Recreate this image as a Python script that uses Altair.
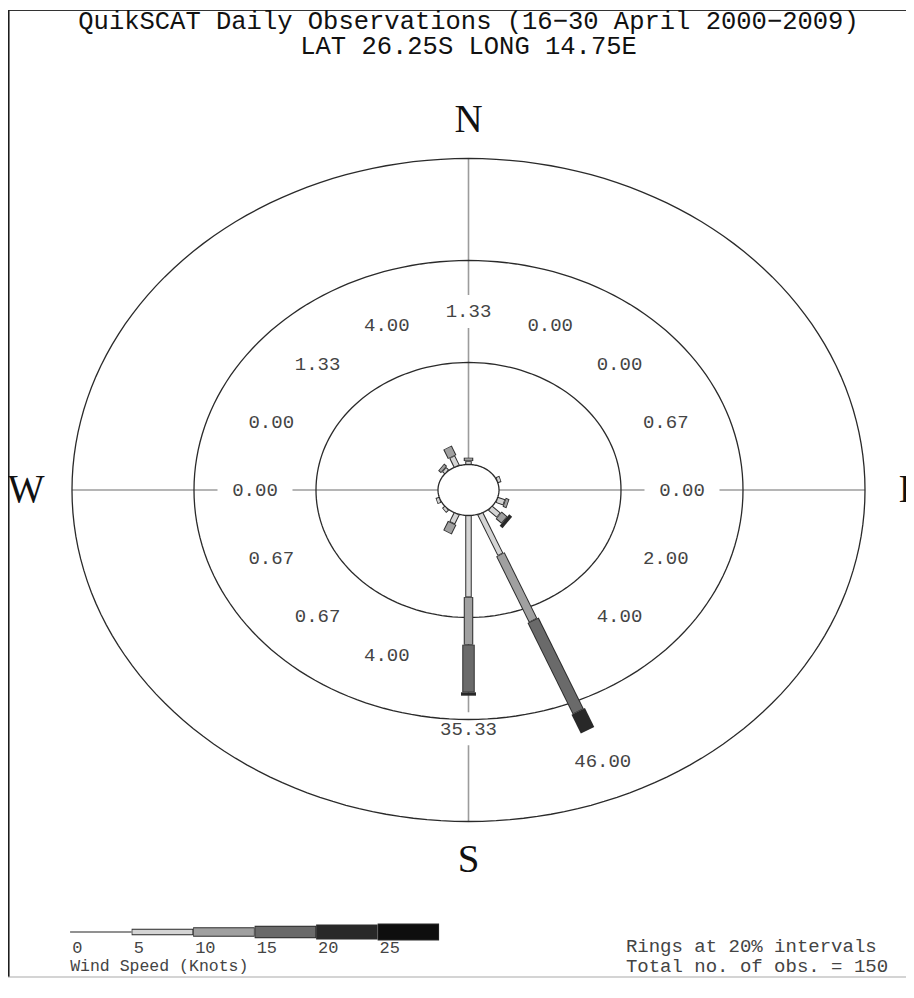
import altair as alt
import numpy as np
import pandas as pd

# ---------------- data ----------------
directions = ["N", "NNE", "NE", "ENE", "E", "ESE", "SE", "SSE",
              "S", "SSW", "SW", "WSW", "W", "WNW", "NW", "NNW"]
speed_bins = ["0-5", "5-10", "10-15", "15-20", "20-25", "25+"]
legend_ticks = ["0", "5", "10", "15", "20", "25"]

# number of observations per direction, one list per wind-speed bin
obs_0_5 = [0, 0, 0, 0, 0, 0, 0, 0, 0, 0, 0, 0, 0, 0, 0, 0]
obs_5_10 = [1, 0, 0, 1, 0, 2, 3, 13, 24, 3, 1, 1, 0, 0, 1, 3]
obs_10_15 = [1, 0, 0, 0, 0, 1, 2, 21, 14, 3, 0, 0, 0, 0, 1, 3]
obs_15_20 = [0, 0, 0, 0, 0, 0, 0, 29, 14, 0, 0, 0, 0, 0, 0, 0]
obs_20_25 = [0, 0, 0, 0, 0, 0, 1, 6, 1, 0, 0, 0, 0, 0, 0, 0]
obs_25_plus = [0, 0, 0, 0, 0, 0, 0, 0, 0, 0, 0, 0, 0, 0, 0, 0]
total_obs = 150

ring_pcts = [20, 40, 60]
compass_names = ["N", "E", "S", "W"]
compass_deg = [0, 90, 180, 270]

title_line1 = "QuikSCAT Daily Observations (16\u221230 April 2000\u22122009)"
title_line2 = "LAT 26.25S LONG 14.75E"
legend_title = "Wind Speed (Knots)"
note_line1 = "Rings at 20% intervals"
note_line2 = "Total no. of obs. = 150"

# ---------------- styling / geometry ----------------
W, H = 898, 970
R0 = 5.0            # radius of the centre circle (in % units)
LABEL_R = 35.0      # default radius of the percentage labels
LABEL_GAP = 6.5     # label distance beyond bar end
COMPASS_R = 72.5
INSET = 0.13
OUT_W = [1.6, 6.5, 9.5, 12.5, 15, 17]
FILL_W = [1.6, 4.5, 7.5, 10.5, 13, 15]
BIN_FILL = ["#8a8a8a", "#d4d4d4", "#a0a0a0", "#6a6a6a", "#282828", "#0e0e0e"]
OUTLINE = "#2b2b2b"
TXT = "#444444"
FONT = "Liberation Mono"

xs = alt.Scale(domain=[-75.49, 71.72], nice=False, zero=False)
ys = alt.Scale(domain=[-95.69, 94.51], nice=False, zero=False)

bins_obs = [obs_0_5, obs_5_10, obs_10_15, obs_15_20, obs_20_25, obs_25_plus]

# bar segments
seg_rows = []
lab_rows = []
for d, name in enumerate(directions):
    th = np.deg2rad(d * 22.5)
    s, c = np.sin(th), np.cos(th)
    cum = 0.0
    for b in range(len(speed_bins)):
        n = bins_obs[b][d]
        if n == 0:
            continue
        p = n / total_obs * 100.0
        r1, r2 = R0 + cum, R0 + cum + p
        f1, f2 = (r1 + INSET, r2 - INSET) if b > 0 else (r1, r2)
        seg_rows.append(dict(dir=name, bin=speed_bins[b],
                             x=r1 * s, y=r1 * c, x2=r2 * s, y2=r2 * c,
                             fx=f1 * s, fy=f1 * c, fx2=f2 * s, fy2=f2 * c,
                             ow=OUT_W[b], fw=FILL_W[b], fill=BIN_FILL[b],
                             oc=OUTLINE if b > 0 else BIN_FILL[0]))
        cum += p
    rl = max(LABEL_R, R0 + cum + LABEL_GAP)
    lab_rows.append(dict(dir=name, x=rl * s, y=rl * c, label=f"{cum:.2f}"))
seg = pd.DataFrame(seg_rows)
labs = pd.DataFrame(lab_rows)

# rings (incl. centre circle)
ring_rows = []
for k, rp in enumerate([0] + ring_pcts):
    r = R0 + rp
    for i in range(181):
        a = np.deg2rad(i * 2)
        ring_rows.append(dict(ring=k, i=i, x=r * np.sin(a), y=r * np.cos(a)))
rings = pd.DataFrame(ring_rows)

# axis lines N-S, E-W
rmax = R0 + ring_pcts[-1]
ax_rows = []
for dg in compass_deg:
    t = np.deg2rad(dg)
    ax_rows.append(dict(x=R0 * np.sin(t), y=R0 * np.cos(t),
                        x2=rmax * np.sin(t), y2=rmax * np.cos(t)))
axes_df = pd.DataFrame(ax_rows)

comp = pd.DataFrame(dict(name=compass_names,
                         x=[COMPASS_R * np.sin(np.deg2rad(d)) for d in compass_deg],
                         y=[COMPASS_R * np.cos(np.deg2rad(d)) for d in compass_deg]))

# legend
LEG_X0, LEG_STEP, LEG_Y = -65.3, 10.08, -86.67
leg = pd.DataFrame(dict(
    bin=speed_bins, tick=legend_ticks,
    x=[LEG_X0 + i * LEG_STEP for i in range(6)],
    x2=[LEG_X0 + (i + 1) * LEG_STEP for i in range(6)],
    fx=[LEG_X0 + i * LEG_STEP + (0.12 if i else 0) for i in range(6)],
    fx2=[LEG_X0 + (i + 1) * LEG_STEP - (0.12 if i else 0) for i in range(6)],
    y=[LEG_Y] * 6, ow=OUT_W, fw=FILL_W, fill=BIN_FILL,
    oc=[BIN_FILL[0]] + [OUTLINE] * 5))

one = pd.DataFrame({"k": [0]})

X = lambda f: alt.X(f, type="quantitative", scale=xs, axis=None)
Y = lambda f: alt.Y(f, type="quantitative", scale=ys, axis=None)

# ---------------- layers ----------------
frame_top = alt.Chart(one).mark_rule(color="#333", strokeWidth=1.2).encode(
    x=alt.value(0), x2=alt.value(W), y=alt.value(2.5))
frame_left = alt.Chart(one).mark_rule(color="#111", strokeWidth=1.5).encode(
    x=alt.value(0.8), y=alt.value(2.5), y2=alt.value(H - 1))
frame_bot = alt.Chart(one).mark_rule(color="#aaa", strokeWidth=1.2).encode(
    x=alt.value(0), x2=alt.value(W), y=alt.value(H - 1))

axis_lines = alt.Chart(axes_df).mark_rule(color="#9c9c9c", strokeWidth=1.6).encode(
    x=X("x"), y=Y("y"), x2="x2", y2="y2")

boxes = alt.Chart(labs).mark_point(
    shape="M-1,-0.44L1,-0.44L1,0.44L-1,0.44Z", filled=True, color="white",
    opacity=1, size=5625, strokeWidth=0).encode(x=X("x"), y=Y("y"))

ring_lines = alt.Chart(rings).mark_line(color="#2a2a2a", strokeWidth=1.3).encode(
    x=X("x"), y=Y("y"), detail="ring:N", order="i:Q")

bar_out = alt.Chart(seg).mark_rule(strokeCap="butt").encode(
    x=X("x"), y=Y("y"), x2="x2", y2="y2",
    color=alt.Color("oc:N", scale=None), size=alt.Size("ow:Q", scale=None))
bar_fill = alt.Chart(seg).mark_rule(strokeCap="butt").encode(
    x=X("fx"), y=Y("fy"), x2="fx2", y2="fy2",
    color=alt.Color("fill:N", scale=None), size=alt.Size("fw:Q", scale=None))

pct_text = alt.Chart(labs).mark_text(font=FONT, fontSize=19, color=TXT,
                                     align="center", baseline="middle").encode(
    x=X("x"), y=Y("y"), text="label:N")

compass_text = alt.Chart(comp).mark_text(font="Liberation Serif", fontSize=39,
                                         color="#111", align="center",
                                         baseline="middle").encode(
    x=X("x"), y=Y("y"), text="name:N")

t1 = alt.Chart(one).mark_text(text=title_line1, font=FONT, fontSize=25.5,
                              color="#111", align="center", baseline="middle").encode(
    x=alt.X(datum=0, type="quantitative", scale=xs, axis=None), y=alt.value(13))
t2 = alt.Chart(one).mark_text(text=title_line2, font=FONT, fontSize=25.5,
                              color="#111", align="center", baseline="middle").encode(
    x=alt.X(datum=0, type="quantitative", scale=xs, axis=None), y=alt.value(38))

leg_out = alt.Chart(leg).mark_rule(strokeCap="butt").encode(
    x=X("x"), y=Y("y"), x2="x2",
    color=alt.Color("oc:N", scale=None), size=alt.Size("ow:Q", scale=None))
leg_fill = alt.Chart(leg).mark_rule(strokeCap="butt").encode(
    x=X("fx"), y=Y("y"), x2="fx2",
    color=alt.Color("fill:N", scale=None), size=alt.Size("fw:Q", scale=None))
leg_ticks = alt.Chart(leg).mark_text(font=FONT, fontSize=17, color=TXT,
                                     align="left", baseline="middle", dx=2, dy=16).encode(
    x=X("x"), y=Y("y"), text="tick:N")
leg_title = alt.Chart(one).mark_text(text=legend_title, font=FONT, fontSize=16.5,
                                     color=TXT, align="left", baseline="middle",
                                     dy=34).encode(
    x=alt.X(datum=LEG_X0, type="quantitative", scale=xs, axis=None),
    y=alt.Y(datum=LEG_Y, type="quantitative", scale=ys, axis=None))
note1 = alt.Chart(one).mark_text(text=note_line1, font=FONT, fontSize=19,
                                 color=TXT, align="left", baseline="middle",
                                 dy=14).encode(
    x=alt.X(datum=25.8, type="quantitative", scale=xs, axis=None),
    y=alt.Y(datum=LEG_Y, type="quantitative", scale=ys, axis=None))
note2 = alt.Chart(one).mark_text(text=note_line2, font=FONT, fontSize=19,
                                 color=TXT, align="left", baseline="middle",
                                 dy=34).encode(
    x=alt.X(datum=25.8, type="quantitative", scale=xs, axis=None),
    y=alt.Y(datum=LEG_Y, type="quantitative", scale=ys, axis=None))

chart = alt.layer(
    frame_top, frame_left, frame_bot,
    axis_lines, boxes, ring_lines, bar_out, bar_fill,
    pct_text, compass_text, t1, t2,
    leg_out, leg_fill, leg_ticks, leg_title, note1, note2,
).properties(
    width=W, height=H, padding=0,
    autosize=alt.AutoSizeParams(type="none"),
    background="white",
).configure_view(stroke=None)

chart.save("out.html", embed_options={"renderer": "svg", "actions": False})
